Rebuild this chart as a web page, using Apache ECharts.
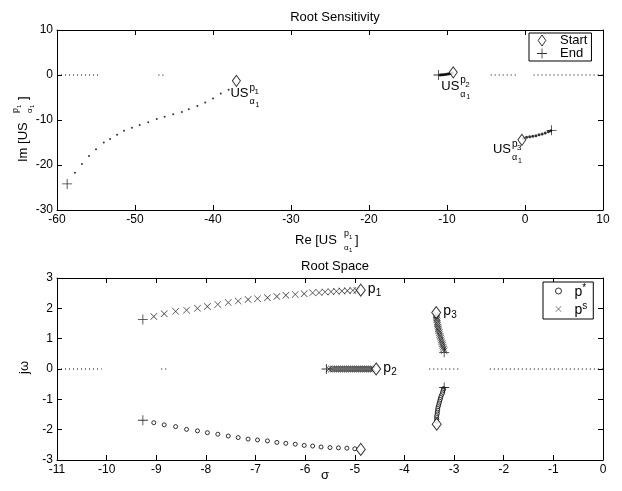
<!DOCTYPE html>
<html><head><meta charset="utf-8">
<script src="https://cdn.jsdelivr.net/npm/echarts@6/dist/echarts.min.js"></script>
<style>html,body{margin:0;padding:0;background:#fff}#c{width:622px;height:491px}</style>
</head><body><div id="c"></div>
<script>
// ---------- Top plot: Root Sensitivity ----------
var sensXTicks = [-60, 10, 10];   // min, max, interval
var sensYTicks = [-30, 10, 10];
var sensStart = [[-37.0, -1.3], [-9.2, 0.6], [-0.4, -14.4]];
var sensEnd = [[-58.7, -24.2], [-11.1, 0.0], [3.4, -12.3]];
var sensPath1 = [[-38.0,-3.3],[-39.0,-4.1],[-40.0,-5.2],[-41.0,-6.1],[-42.0,-6.9],[-43.1,-7.6],[-44.0,-8.2],
  [-45.1,-8.7],[-46.2,-9.3],[-47.2,-9.8],[-48.3,-10.5],[-49.4,-11.1],[-50.4,-11.7],[-51.4,-12.4],[-52.3,-13.3],
  [-53.2,-14.2],[-54.0,-15.0],[-55.0,-16.5],[-55.9,-18.0],[-56.8,-19.8],[-57.7,-21.7]];
var sensPath2 = [[-9.3,0.45],[-9.5,0.35],[-9.7,0.28],[-9.9,0.22],[-10.1,0.17],[-10.3,0.12],[-10.5,0.08],
  [-10.7,0.05],[-10.9,0.02]];
var sensPath3 = [[-0.2,-14.1],[0.2,-13.85],[0.6,-13.7],[1.0,-13.6],[1.4,-13.5],[1.8,-13.3],[2.2,-13.1],
  [2.6,-12.9],[3.0,-12.6],[3.3,-12.4]];
var sensZeroSegments = [[-60,-54.5],[-47,-46],[-4.4,-1.0],[1.1,10]];

// ---------- Bottom plot: Root Space ----------
var rootXTicks = [-11, 0, 1];
var rootYTicks = [-3, 3, 1];
var rootStart = [[-4.88, 2.6], [-4.57, 0], [-3.36, 1.86], [-4.88, -2.65], [-3.35, -1.82]];
var rootEnd = [[-9.27, 1.63], [-9.27, -1.69], [-5.57, 0], [-3.2, 0.55], [-3.2, -0.61]];
var rootPs = [
  // p1 upper branch
  [-9.05,1.73],[-8.84,1.82],[-8.61,1.9],[-8.39,1.94],[-8.17,2.0],[-7.97,2.06],[-7.76,2.13],[-7.55,2.19],
  [-7.35,2.24],[-7.15,2.29],[-6.96,2.32],[-6.76,2.35],[-6.57,2.39],[-6.39,2.43],[-6.2,2.46],[-6.02,2.48],
  [-5.85,2.51],[-5.72,2.52],[-5.6,2.54],[-5.48,2.55],[-5.37,2.56],[-5.26,2.57],[-5.15,2.58],[-5.04,2.59],[-4.96,2.59],
  // p2 real axis
  [-5.52,0],[-5.47,0],[-5.43,0],[-5.39,0],[-5.35,0],[-5.31,0],[-5.27,0],[-5.23,0],[-5.19,0],[-5.15,0],[-5.11,0],
  [-5.07,0],[-5.03,0],[-4.99,0],[-4.95,0],[-4.91,0],[-4.87,0],[-4.83,0],[-4.79,0],[-4.75,0],[-4.71,0],[-4.67,0],[-4.63,0],
  // p3 upper branch
  [-3.36,1.8],[-3.36,1.74],[-3.35,1.68],[-3.35,1.62],[-3.34,1.56],[-3.34,1.5],[-3.33,1.44],[-3.32,1.38],
  [-3.32,1.32],[-3.31,1.26],[-3.3,1.2],[-3.29,1.14],[-3.28,1.08],[-3.27,1.02],[-3.26,0.96],[-3.25,0.9],
  [-3.24,0.84],[-3.23,0.78],[-3.22,0.72],[-3.21,0.66],[-3.2,0.6]];
var rootPstar = [
  // p1 lower branch
  [-9.05,-1.77],[-8.84,-1.84],[-8.61,-1.9],[-8.39,-1.99],[-8.17,-2.04],[-7.97,-2.1],[-7.76,-2.15],[-7.55,-2.21],
  [-7.35,-2.26],[-7.15,-2.31],[-6.96,-2.34],[-6.76,-2.37],[-6.57,-2.42],[-6.39,-2.45],[-6.2,-2.48],[-6.02,-2.52],
  [-5.85,-2.54],[-5.68,-2.57],[-5.5,-2.59],[-5.33,-2.6],[-5.16,-2.61],[-5.0,-2.63],
  // p3 lower branch
  [-3.21,-0.65],[-3.22,-0.7],[-3.23,-0.76],[-3.24,-0.82],[-3.26,-0.88],[-3.27,-0.94],[-3.28,-1.0],[-3.29,-1.06],
  [-3.3,-1.12],[-3.31,-1.18],[-3.32,-1.24],[-3.33,-1.3],[-3.33,-1.36],[-3.34,-1.42],[-3.34,-1.48],[-3.35,-1.54],
  [-3.35,-1.6],[-3.35,-1.66],[-3.35,-1.72]];
var rootZeroSegments = [[-11,-10.1],[-8.9,-8.8],[-3.5,-2.9],[-2.28,0]];

var FONT = 'Liberation Sans';
var PLUS = 'path://M-0.08,-1H0.08V-0.08H1V0.08H0.08V1H-0.08V0.08H-1V-0.08H-0.08Z';
var CROSS = 'path://M-1,-0.88L-0.88,-1L0,-0.12L0.88,-1L1,-0.88L0.12,0L1,0.88L0.88,1L0,0.12L-0.88,1L-1,0.88L-0.12,0Z';
var DIAMOND = 'path://M0,-1L0.7,0L0,1L-0.7,0Z';

function xAx(grid, pos, t, show) {
  return {type:'value', gridIndex:grid, position:pos, min:t[0], max:t[1], interval:t[2],
    axisLine:{show:true, onZero:false, lineStyle:{color:'#000', width:1}},
    axisTick:{show:true, inside:true, length:5, lineStyle:{color:'#000'}},
    axisLabel:{show:show, color:'#000', fontFamily:FONT, fontSize:12, margin:4},
    splitLine:{show:false}};
}
function yAx(grid, pos, t, show) {
  return xAx(grid, pos, t, show);
}
function zeroLines(segs, xi, yi) {
  return segs.map(function (s) {
    return {type:'line', xAxisIndex:xi, yAxisIndex:yi, data:[[s[0],0],[s[1],0]], symbol:'none', silent:true,
      lineStyle:{color:'#000', width:1, type:[1,3]}, z:1};
  });
}

var chart = echarts.init(document.getElementById('c'), null, {renderer:'canvas'});
var series = [].concat(
  zeroLines(sensZeroSegments, 0, 0),
  zeroLines(rootZeroSegments, 2, 2),
  [
    {type:'scatter', xAxisIndex:0, yAxisIndex:0, data:sensPath1, symbol:'circle', symbolSize:2, itemStyle:{color:'#000'}},
    {type:'scatter', xAxisIndex:0, yAxisIndex:0, data:sensPath2, symbol:'circle', symbolSize:3, itemStyle:{color:'#000'}},
    {type:'scatter', xAxisIndex:0, yAxisIndex:0, data:sensPath3, symbol:'circle', symbolSize:3, itemStyle:{color:'#000'}},
    {name:'Start', type:'scatter', xAxisIndex:0, yAxisIndex:0, data:sensStart, symbol:'diamond', symbolSize:[8,11],
      itemStyle:{color:'#fff', borderColor:'#000', borderWidth:1}, z:5},
    {name:'End', type:'scatter', xAxisIndex:0, yAxisIndex:0, data:sensEnd, symbol:PLUS, symbolSize:10,
      itemStyle:{color:'#000'}, z:5},
    {name:'p*', type:'scatter', xAxisIndex:2, yAxisIndex:2, data:rootPstar, symbol:'circle', symbolSize:4,
      itemStyle:{color:'#fff', borderColor:'#000', borderWidth:1}},
    {name:'ps', type:'scatter', xAxisIndex:2, yAxisIndex:2, data:rootPs, symbol:CROSS, symbolSize:7,
      itemStyle:{color:'#000'}},
    {name:'rStart', type:'scatter', xAxisIndex:2, yAxisIndex:2, data:rootStart, symbol:'diamond', symbolSize:[9,12],
      itemStyle:{color:'#fff', borderColor:'#000', borderWidth:1}, z:5},
    {name:'rEnd', type:'scatter', xAxisIndex:2, yAxisIndex:2, data:rootEnd, symbol:PLUS, symbolSize:10,
      itemStyle:{color:'#000'}, z:5}
  ]);

chart.setOption({
  animation:false,
  backgroundColor:'#fff',
  textStyle:{fontFamily:FONT},
  title:[
    {text:'Root Sensitivity', left:330, top:6, textAlign:'center', textStyle:{fontFamily:FONT, fontSize:13, fontWeight:'normal', color:'#000'}},
    {text:'Root Space', left:330, top:255, textAlign:'center', textStyle:{fontFamily:FONT, fontSize:13, fontWeight:'normal', color:'#000'}}
  ],
  grid:[
    {left:57, top:30, width:546, height:180},
    {left:57, top:278, width:546, height:182}
  ],
  xAxis:[xAx(0,'bottom',sensXTicks,true), xAx(0,'top',sensXTicks,false), xAx(1,'bottom',rootXTicks,true), xAx(1,'top',rootXTicks,false)],
  yAxis:[yAx(0,'left',sensYTicks,true), yAx(0,'right',sensYTicks,false), yAx(1,'left',rootYTicks,true), yAx(1,'right',rootYTicks,false)],
  legend:[
    {data:[{name:'Start', icon:DIAMOND, itemStyle:{color:'#fff', borderColor:'#000', borderWidth:1}},
           {name:'End', icon:PLUS, itemStyle:{color:'#000', borderWidth:0}}],
      orient:'vertical', left:529, top:33, width:64, padding:[1,4,1,8], itemGap:0,
      itemWidth:10, itemHeight:11, borderColor:'#000', borderWidth:1, backgroundColor:'#fff',
      textStyle:{fontFamily:FONT, fontSize:13, color:'#000', padding:[0,0,0,8]}},
    {data:[{name:'p*', icon:'circle', itemStyle:{color:'#fff', borderColor:'#000', borderWidth:1}},
           {name:'ps', icon:CROSS, itemStyle:{color:'#000', borderWidth:0}}],
      orient:'vertical', left:543, top:282, padding:[1,6,2,12], itemGap:2,
      itemWidth:6, itemHeight:6, borderColor:'#000', borderWidth:1, backgroundColor:'#fff',
      formatter:function(n){ return n==='p*' ? '{m|p}{s|*}' : '{m|p}{s|s}'; },
      textStyle:{fontFamily:FONT, color:'#000', padding:[0,0,0,8],
        rich:{m:{fontFamily:FONT, fontSize:14, color:'#000', verticalAlign:'bottom', lineHeight:16},
              s:{fontFamily:FONT, fontSize:10, color:'#000', verticalAlign:'top', lineHeight:16}}}}
  ],
  series:series
});

function txt(x, y, s, size) {
  var st = {text:s, fontFamily:FONT, fontSize:size, fill:'#000', textAlign:'left', textVerticalAlign:'middle', align:'left', verticalAlign:'middle'};
  return {type:'text', x:x, y:y, style:st, silent:true};
}
function usGroup(x, y, supIdx) {
  return {type:'group', x:x, y:y, children:[
    txt(0, 0, 'US', 13),
    txt(19, -6, 'p', 10), txt(24, -2, supIdx, 8),
    txt(19, 8, 'α', 9), txt(25, 11, '1', 7)
  ]};
}
function pGroup(x, y, idx) {
  return {type:'group', x:x, y:y, children:[ txt(0, 0, 'p', 14), txt(8, 4, idx, 10) ]};
}
var g = [];
var sOff = [[-6,13],[-12,14],[-29,10]];
sensStart.forEach(function (p, i) {
  var px = chart.convertToPixel({gridIndex:0}, p);
  g.push(usGroup(px[0] + sOff[i][0], px[1] + sOff[i][1], String(i + 1)));
});
var rIdx = [['1',0],['2',1],['3',2]];
rIdx.forEach(function (r) {
  var px = chart.convertToPixel({gridIndex:1}, rootStart[r[1]]);
  g.push(pGroup(px[0] + 7, px[1] - 1, r[0]));
});
// axis names
g.push({type:'group', x:295, y:240, children:[
  txt(0, 0, 'Re [US', 13), txt(49, -6, 'p', 9), txt(54, -3, '1', 6), txt(49, 8, 'α', 8), txt(54, 10, '1', 6), txt(60, 0, ']', 13)
]});
g.push({type:'group', x:23, y:162, rotation:Math.PI/2, children:[
  txt(0, 0, 'Im [US', 13), txt(49, -7, 'p', 9), txt(54, -4, '1', 6), txt(49, 7, 'α', 8), txt(54, 9, '1', 6), txt(62, 0, ']', 13)
]});
g.push({type:'group', x:24, y:374, rotation:Math.PI/2, children:[ txt(0, 0, 'jω', 13) ]});
g.push(txt(321, 475, 'σ', 13));
chart.setOption({graphic:g});
</script>
</body></html>
